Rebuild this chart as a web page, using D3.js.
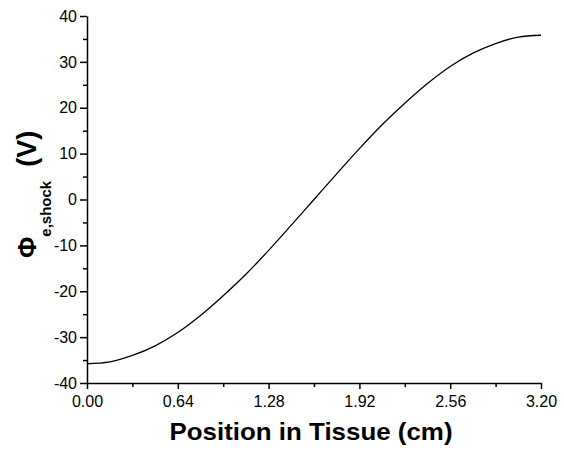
<!DOCTYPE html>
<html>
<head>
<meta charset="utf-8">
<script src="https://cdn.jsdelivr.net/npm/d3@7"></script>
<style>
  body { margin: 0; background: #fff; }
  svg text { font-family: "Liberation Sans", Arial, sans-serif; }
</style>
</head>
<body>
<div id="chart"></div>
<script>
// values
var positions = [0.00, 0.16, 0.32, 0.48, 0.64, 0.80, 0.96, 1.12, 1.28, 1.44, 1.60,
                 1.76, 1.92, 2.08, 2.24, 2.40, 2.56, 2.72, 2.88, 3.04, 3.20];
var potential = [-35.8, -35.4, -34.0, -31.9, -29.0, -25.3, -21.0, -16.3, -11.1, -5.6, 0.0,
                 5.6, 11.1, 16.3, 21.0, 25.3, 29.0, 31.9, 34.0, 35.4, 35.8];
var xTicks = [0.00, 0.64, 1.28, 1.92, 2.56, 3.20];
var xMinor = [0.32, 0.96, 1.60, 2.24, 2.88];
var yTicks = [-40, -30, -20, -10, 0, 10, 20, 30, 40];
var yMinor = [-35, -25, -15, -5, 5, 15, 25, 35];

var width = 564, height = 456;
var margin = {left: 87, right: 23, top: 16, bottom: 73};

var svg = d3.select('#chart')
  .append('svg')
  .attr('width', width)
  .attr('height', height);

var x = d3.scaleLinear()
  .domain([0, 3.2])
  .range([margin.left, width - margin.right]);

var y = d3.scaleLinear()
  .domain([-40, 40])
  .range([height - margin.bottom, margin.top]);

function styleAxis(g) {
  g.selectAll('path, line').attr('stroke', '#000').attr('stroke-width', 1.5);
  g.selectAll('text').attr('fill', '#000').style('font-size', '16px');
}

// minor ticks first
svg.append('g')
  .attr('transform', 'translate(0,' + y(-40) + ')')
  .call(d3.axisBottom(x).tickValues(xMinor).tickSize(4).tickFormat(''))
  .call(styleAxis)
  .select('.domain').remove();

svg.append('g')
  .attr('transform', 'translate(' + x(0) + ',0)')
  .call(d3.axisLeft(y).tickValues(yMinor).tickSize(4).tickFormat(''))
  .call(styleAxis)
  .select('.domain').remove();

var xAxis = svg.append('g')
  .attr('transform', 'translate(0,' + y(-40) + ')')
  .call(d3.axisBottom(x).tickValues(xTicks).tickSize(6).tickSizeOuter(0).tickPadding(7)
    .tickFormat(d3.format('.2f')))
  .call(styleAxis);

var yAxis = svg.append('g')
  .attr('transform', 'translate(' + x(0) + ',0)')
  .call(d3.axisLeft(y).tickValues(yTicks).tickSize(7).tickSizeOuter(0).tickPadding(3))
  .call(styleAxis);

yAxis.selectAll('text').text(function(d) { return d < 0 ? '-' + Math.abs(d) : d; });

var line = d3.line()
  .x(function(d, i) { return x(positions[i]); })
  .y(function(d) { return y(d); })
  .curve(d3.curveCatmullRom.alpha(0.5));

svg.append('path')
  .datum(potential)
  .attr('fill', 'none')
  .attr('stroke', '#000')
  .attr('stroke-width', 1.3)
  .attr('d', line);

// axis titles
svg.append('text')
  .attr('x', 311)
  .attr('y', 440)
  .attr('text-anchor', 'middle')
  .attr('textLength', 283)
  .attr('lengthAdjust', 'spacingAndGlyphs')
  .style('font-size', '24px')
  .style('font-weight', 'bold')
  .text('Position in Tissue (cm)');

var yt = svg.append('text')
  .attr('transform', 'translate(36,258) rotate(-90)')
  .style('font-weight', 'bold');
yt.append('tspan').style('font-size', '26px').text('\u03A6');
yt.append('tspan').style('font-size', '15px').attr('dy', 15).text('e,shock');
yt.append('tspan').style('font-size', '27px').attr('dy', -15).attr('dx', 14).text('(V)');
</script>
</body>
</html>
